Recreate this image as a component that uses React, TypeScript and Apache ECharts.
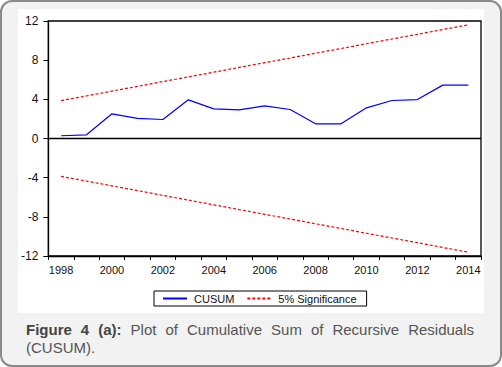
import React, { useEffect, useRef } from "react";
import * as echarts from "echarts";

const years: string[] = [
  "1998", "1999", "2000", "2001", "2002", "2003", "2004", "2005", "2006",
  "2007", "2008", "2009", "2010", "2011", "2012", "2013", "2014",
];
const cusum: number[] = [
  0.28, 0.38, 2.52, 2.05, 1.94, 3.95, 3.03, 2.93, 3.34,
  2.96, 1.5, 1.5, 3.13, 3.88, 3.98, 5.45, 5.45,
];
const upperBand: number[] = [
  3.87, 4.35, 4.84, 5.32, 5.81, 6.29, 6.77, 7.26, 7.74,
  8.22, 8.71, 9.19, 9.68, 10.16, 10.64, 11.13, 11.61,
];
const lowerBand: number[] = [
  -3.87, -4.35, -4.84, -5.32, -5.81, -6.29, -6.77, -7.26, -7.74,
  -8.22, -8.71, -9.19, -9.68, -10.16, -10.64, -11.13, -11.61,
];
const yMin = -12;
const yMax = 12;
const yStep = 4;

const FONT = "Arial, 'Liberation Sans', sans-serif";

function Chart() {
  const ref = useRef<HTMLDivElement>(null);
  useEffect(() => {
    if (!ref.current) return;
    const chart = echarts.init(ref.current, undefined, { renderer: "svg" });
    chart.setOption({
      animation: false,
      backgroundColor: "#ffffff",
      textStyle: { fontFamily: FONT },
      grid: {
        left: 23,
        top: 12,
        right: 3,
        bottom: 57,
        show: true,
        borderColor: "#000",
        borderWidth: 1.3,
        backgroundColor: "transparent",
      },
      legend: {
        left: 136,
        top: 282,
        orient: "horizontal",
        backgroundColor: "#fff",
        borderColor: "#000",
        borderWidth: 1,
        borderRadius: 0,
        padding: [2, 10, 2, 8],
        itemGap: 12,
        itemWidth: 24,
        itemHeight: 10,
        itemStyle: { opacity: 0 },
        textStyle: { fontSize: 11, color: "#111", fontFamily: FONT, padding: [0, 0, 0, 2] },
        data: ["CUSUM", "5% Significance"],
      },
      xAxis: {
        type: "category",
        data: years,
        boundaryGap: true,
        axisLine: { onZero: false, lineStyle: { color: "#000", width: 1.3 } },
        axisTick: { show: true, interval: 0, length: 4, lineStyle: { color: "#000" } },
        axisLabel: { interval: 1, fontSize: 11, color: "#111", margin: 8, fontFamily: FONT },
        splitLine: { show: false },
      },
      yAxis: {
        type: "value",
        min: yMin,
        max: yMax,
        interval: yStep,
        axisLine: { show: true, lineStyle: { color: "#000", width: 1.3 } },
        axisTick: { show: true, length: 5, lineStyle: { color: "#000" } },
        axisLabel: { fontSize: 12, color: "#111", margin: 10, fontFamily: FONT },
        splitLine: { show: false },
      },
      series: [
        {
          name: "CUSUM",
          type: "line",
          data: cusum,
          symbol: "none",
          lineStyle: { color: "#0000ff", width: 1.2 },
          itemStyle: { color: "#0000ff" },
          z: 3,
          markLine: {
            silent: true,
            symbol: "none",
            label: { show: false },
            lineStyle: { color: "#000", width: 1.3, type: "solid" },
            data: [{ yAxis: 0 }],
          },
        },
        {
          name: "5% Significance",
          type: "line",
          data: upperBand,
          symbol: "none",
          lineStyle: { color: "#ff0000", width: 1.2, type: [3, 2] },
          itemStyle: { color: "#ff0000" },
        },
        {
          name: "5% Significance",
          type: "line",
          data: lowerBand,
          symbol: "none",
          lineStyle: { color: "#ff0000", width: 1.2, type: [3, 2] },
          itemStyle: { color: "#ff0000" },
        },
      ],
    });
    return () => chart.dispose();
  }, []);
  return <div ref={ref} style={{ position: "absolute", left: 18, top: 9, width: 466, height: 304 }} />;
}

export default function App() {
  return (
    <div
      style={{
        position: "fixed",
        left: 0,
        top: 0,
        width: 502,
        height: 367,
        background: "#fff",
      }}
    >
      <div
        style={{
          position: "absolute",
          left: 0,
          top: 0,
          width: 498,
          height: 363,
          border: "2px solid #8a8a8a",
          borderRadius: 12,
          background: "#f1f2f1",
        }}
      />
      <Chart />
      <div
        style={{
          position: "absolute",
          left: 26,
          top: 321,
          width: 448,
          fontFamily: FONT,
          fontSize: 15,
          lineHeight: "17.5px",
          color: "#555",
        }}
      >
        <div style={{ textAlign: "justify", textAlignLast: "justify", whiteSpace: "nowrap" } as React.CSSProperties}>
          <span style={{ fontWeight: "bold", color: "#444" }}>Figure 4 (a):</span> Plot of Cumulative Sum of Recursive Residuals
        </div>
        <div>(CUSUM).</div>
      </div>
    </div>
  );
}
